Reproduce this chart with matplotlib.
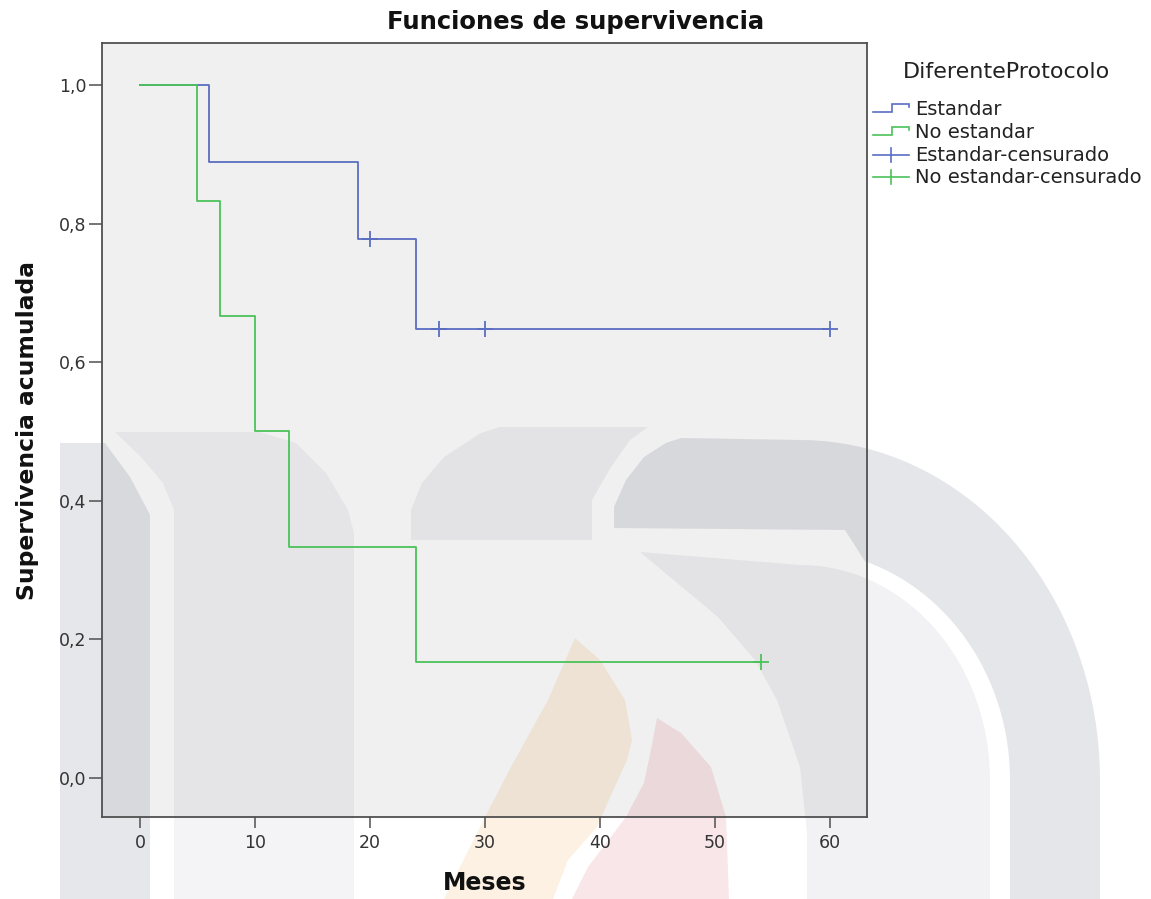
# Funciones de supervivencia (Kaplan-Meier) -- Estandar vs No estandar

import numpy as np
import matplotlib
matplotlib.use('Agg')
import matplotlib.pyplot as plt
from matplotlib.patches import Polygon

# datos
meses_estandar = [0, 6, 19, 24, 60]
superv_estandar = [1.0, 0.889, 0.778, 0.648, 0.648]
meses_no_estandar = [0, 5, 7, 10, 13, 24, 54]
superv_no_estandar = [1.0, 0.833, 0.667, 0.500, 0.333, 0.167, 0.167]

# casos censurados
cens_estandar_t = [20, 26, 30, 60]
cens_estandar_s = [0.778, 0.648, 0.648, 0.648]
cens_no_estandar_t = [54]
cens_no_estandar_s = [0.167]

x_ticks = [0, 10, 20, 30, 40, 50, 60]
y_ticks = [0.0, 0.2, 0.4, 0.6, 0.8, 1.0]
y_ticklabels = ['0,0', '0,2', '0,4', '0,6', '0,8', '1,0']
legend_title = 'DiferenteProtocolo'
legend_labels = ['Estandar', 'No estandar', 'Estandar-censurado', 'No estandar-censurado']

azul = '#5a6ec2'
verde = '#4cc25a'
gris_ejes = '#505050'

W, H = 1151, 899
fig = plt.figure(figsize=(W / 100, H / 100), dpi=100, facecolor='white')

# capa de fondo en pixeles (marca de agua del documento + leyenda)
bg = fig.add_axes([0, 0, 1, 1], zorder=0)
bg.set_xlim(0, W)
bg.set_ylim(H, 0)
bg.axis('off')


def arco(cx, cy, rx, ry, a0, a1, n=40):
    a = np.radians(np.linspace(a0, a1, n))
    return list(zip(cx + rx * np.cos(a), cy - ry * np.sin(a)))


marca = [
    ([(60, 899), (60, 443), (105, 443), (130, 477), (150, 515), (150, 899)], '#e6e7eb'),
    ([(115, 432), (259, 432), (296, 443), (326, 473), (348, 510), (354, 533), (354, 899),
      (174, 899), (174, 510), (163, 483), (141, 457)], '#f4f4f6'),
    ([(411, 540), (411, 510), (422, 483), (444, 457), (481, 433), (500, 427), (648, 427),
      (630, 440), (611, 467), (592, 500), (592, 540)], '#f2f2f5'),
    ([(614, 528), (614, 507), (626, 480), (644, 457), (666, 443), (681, 438)]
     + arco(800, 780, 300, 340, 90, 0) + [(1100, 899), (1010, 899)]
     + arco(800, 780, 210, 230, 0, 72) + [(845, 530)], '#e5e6ea'),
    ([(640, 552), (718, 617), (755, 660), (777, 700), (800, 767), (807, 833), (807, 899),
      (990, 899)] + arco(800, 780, 190, 215, 0, 90), '#f2f2f5'),
    ([(575, 638), (600, 660), (625, 700), (632, 740), (627, 760), (612, 793), (597, 827),
      (568, 860), (553, 899), (444, 899), (485, 817), (511, 767), (548, 700)], '#fdf1e3'),
    ([(657, 718), (681, 733), (711, 767), (726, 817), (729, 899), (572, 899), (588, 867),
      (626, 817), (644, 783), (652, 745)], '#f9e6e9'),
]
for pts, col in marca:
    bg.add_patch(Polygon(pts, closed=True, facecolor=col, edgecolor='none', zorder=1))

# ejes principales (fondo gris semitransparente sobre la marca de agua)
ax = fig.add_axes([102 / W, (H - 817) / H, (867 - 102) / W, (817 - 43) / H], zorder=1)
ax.set_facecolor((0, 0, 0, 0.059))

ax.step(meses_estandar, superv_estandar, where='post', color=azul, lw=1.3, zorder=3)
ax.step(meses_no_estandar, superv_no_estandar, where='post', color=verde, lw=1.3, zorder=4)
ax.plot(cens_estandar_t, cens_estandar_s, ls='none', marker='+', ms=11, mew=1.3,
        color=azul, zorder=5)
ax.plot(cens_no_estandar_t, cens_no_estandar_s, ls='none', marker='+', ms=11, mew=1.3,
        color=verde, zorder=5)

ax.set_xlim(-3.30, 63.22)
ax.set_ylim(-0.0563, 1.0606)
ax.set_xticks(x_ticks)
ax.set_yticks(y_ticks)
ax.set_yticklabels(y_ticklabels)

for sp in ax.spines.values():
    sp.set_color(gris_ejes)
    sp.set_linewidth(1.3)
ax.tick_params(axis='x', direction='out', length=8, width=1.1, color=gris_ejes,
               labelsize=12.5, labelcolor='#333333', pad=4)
ax.tick_params(axis='y', direction='out', length=9.5, width=1.1, color=gris_ejes,
               labelsize=12.5, labelcolor='#333333', pad=1.5)

ax.text(0.5007, -0.0853, 'Meses', transform=ax.transAxes, ha='center', va='center',
        fontsize=17, fontweight='bold', color='#111111')
ax.text((28 - 102) / 765, 0.5, 'Supervivencia acumulada', transform=ax.transAxes,
        rotation=90, ha='center', va='center', fontsize=16.8, fontweight='bold',
        color='#111111')

fig.text(0.5, 1 - 29 / H, 'Funciones de supervivencia', ha='center', va='baseline',
         fontsize=17.5, fontweight='bold', color='#111111')

# leyenda
bg.text(903, 78, legend_title, ha='left', va='baseline', fontsize=16, color='#222222', zorder=6)
base = [115, 138, 161, 183]
colores = [azul, verde, azul, verde]
for i, (lab, col, yb) in enumerate(zip(legend_labels, colores, base)):
    yc = yb - 6.5
    if i < 2:
        bg.plot([873, 892, 892, 909, 909], [yc + 3.5, yc + 3.5, yc - 4.5, yc - 4.5, yc - 1.5],
                color=col, lw=1.2, zorder=6, solid_joinstyle='miter')
    else:
        bg.plot([873, 909], [yc, yc], color=col, lw=1.2, zorder=6)
        bg.plot([891, 891], [yc - 7, yc + 7], color=col, lw=1.2, zorder=6)
    bg.text(915, yb, lab, ha='left', va='baseline', fontsize=14, color='#222222', zorder=6)

plt.savefig('out.png', dpi=100, facecolor='white')
